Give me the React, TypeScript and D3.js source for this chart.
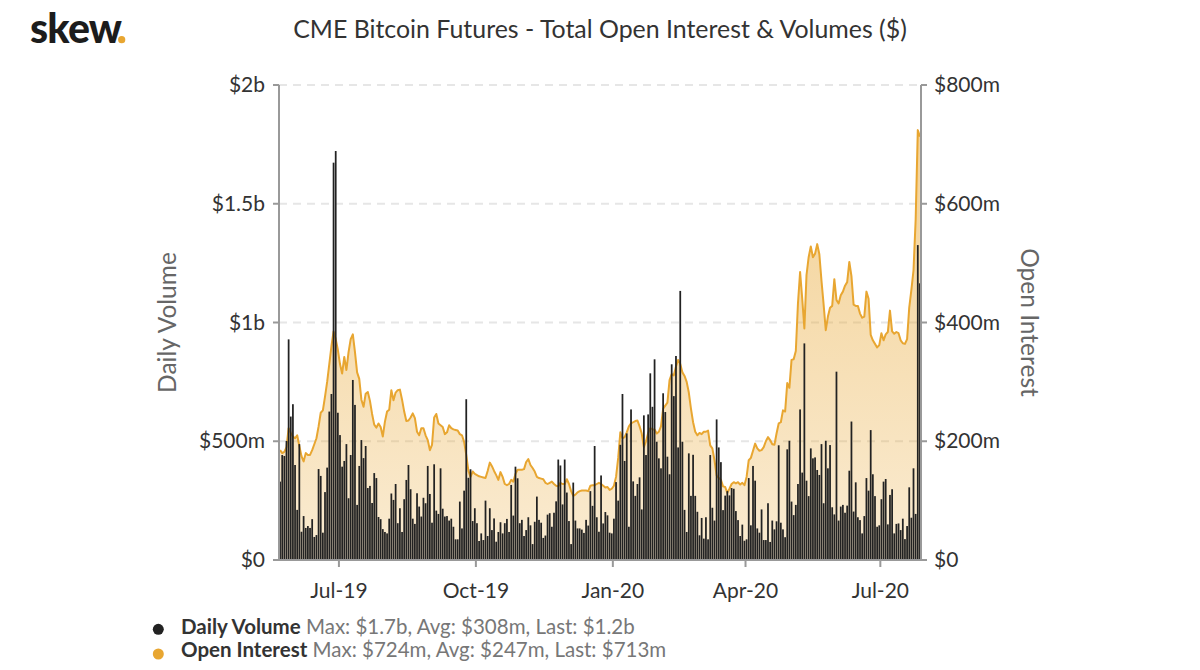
import * as React from 'react';
import * as d3 from 'd3';

// daily volume ($m), one value per CME trading day from 21 May 2019
const volume: number[] = [
  330, 442, 438, 501, 929, 604, 656, 400, 211, 488, 119, 185, 135, 143, 135, 172, 97, 105, 383, 354,
  115, 286, 389, 625, 699, 1673, 1722, 620, 526, 393, 417, 488, 260, 442, 758, 653, 232, 396, 505, 429,
  480, 303, 312, 240, 366, 345, 181, 172, 130, 118,
  112, 174, 280, 253, 320, 155, 218, 118, 256, 337, 400, 298, 174, 152, 281, 225, 183, 262, 239, 396,
  278, 157, 403, 208, 194, 386, 216, 183, 185, 166, 174, 140, 87, 87, 246, 133, 292, 677, 346, 382,
  164, 218, 155, 80, 112, 84, 250, 101, 218, 126,
  175, 77, 118, 159, 112, 155, 173, 118, 316, 187, 393, 344, 155, 169, 101, 126, 180, 146, 67, 161,
  267, 169, 157, 93, 103, 191, 197, 140, 199, 247, 423, 398, 234, 423, 284, 164, 67, 326, 166, 133,
  133, 128, 114, 169, 145, 290, 228, 480, 180, 119,
  356, 154, 202, 188, 115, 112, 174, 328, 250, 485, 699, 417, 533, 140, 634, 331, 270, 320, 348, 213,
  609, 442, 613, 786, 645, 845, 498, 428, 386, 702, 623, 435, 361, 824, 690, 859, 474, 1133, 498, 211,
  118, 449, 270, 443, 270, 203, 104, 177, 90, 180,
  87, 442, 220, 166, 592, 474, 412, 210, 271, 290, 272, 303, 300, 206, 168, 101, 149, 81, 87, 345,
  146, 396, 334, 133, 115, 213, 84, 84, 239, 76, 166, 129, 163, 483, 157, 129, 96, 466, 502, 246,
  189, 232, 320, 634, 368, 912, 334, 269, 470, 428,
  432, 379, 358, 488, 239, 502, 386, 484, 222, 192, 793, 166, 225, 232, 199, 229, 376, 583, 204, 327,
  180, 168, 112, 185, 345, 292, 547, 361, 269, 140, 146, 256, 330, 341, 150, 274, 298, 112, 152, 154,
  126, 174, 88, 143, 306, 178, 386, 194, 1326, 1165,
];

// open interest ($m), same days
const openInterest: number[] = [
  185, 180, 182, 190, 222, 214, 208, 205, 210, 192, 175, 166, 180, 177, 177, 185, 195, 205, 225, 248,
  252, 275, 300, 330, 360, 385, 372, 354, 330, 314, 342, 320, 350, 372, 380, 350, 316, 305, 270, 258,
  280, 283, 268, 246, 228, 223, 230, 224, 208, 233,
  250, 253, 286, 269, 282, 286, 287, 270, 250, 234, 235, 240, 247, 239, 216, 210, 222, 222, 210, 202,
  185, 194, 240, 246, 230, 227, 224, 212, 215, 227, 222, 220, 219, 218, 212, 210, 199, 177, 150, 140,
  149, 145, 143, 141, 140, 139, 138, 150, 164, 158,
  150, 143, 135, 148, 140, 128, 126, 128, 135, 132, 145, 152, 152, 152, 153, 165, 170, 160, 155, 149,
  140, 138, 137, 136, 130, 128, 130, 132, 128, 125, 124, 130, 128, 128, 136, 128, 116, 108, 110, 114,
  116, 117, 117, 117, 116, 125, 126, 126, 128, 130,
  128, 125, 122, 123, 118, 120, 125, 140, 172, 215, 205, 207, 215, 225, 230, 232, 234, 235, 225, 213,
  190, 200, 214, 222, 220, 220, 213, 216, 225, 255, 260, 265, 303, 313, 311, 326, 337, 330, 316, 310,
  300, 282, 255, 232, 216, 210, 214, 212, 216, 216,
  218, 193, 188, 168, 142, 138, 135, 124, 123, 113, 120, 128, 131, 129, 131, 127, 130, 126, 140, 168,
  172, 184, 196, 188, 184, 185, 190, 200, 207, 202, 195, 194, 213, 230, 232, 252, 250, 298, 290, 337,
  338, 352, 432, 485, 440, 390, 480, 510, 528, 510,
  516, 532, 515, 470, 430, 387, 410, 425, 428, 473, 438, 432, 446, 452, 462, 468, 502, 478, 430, 428,
  428, 415, 408, 410, 452, 440, 379, 370, 364, 358, 362, 382, 370, 380, 384, 420, 385, 381, 384, 382,
  370, 365, 364, 372, 425, 455, 488, 573, 724, 713,
];

const startDate = '2019-05-21';
const holidays = [
  '2019-05-27', '2019-07-04', '2019-09-02', '2019-11-28', '2019-12-25', '2020-01-01',
  '2020-01-20', '2020-02-17', '2020-04-10', '2020-05-25', '2020-07-03',
];
const tickMonths = ['2019-07-01', '2019-10-01', '2020-01-01', '2020-04-01', '2020-07-01'];
const volumeTicks = [0, 500, 1000, 1500, 2000];
const oiTicks = [0, 200, 400, 600, 800];

const fmtDay = d3.utcFormat('%Y-%m-%d');
const fmtTick = d3.utcFormat('%b-%y');

function tradingDays(n: number): string[] {
  const out: string[] = [];
  let d = new Date(startDate + 'T00:00:00Z');
  while (out.length < n) {
    const key = fmtDay(d);
    const wd = d.getUTCDay();
    if (wd !== 0 && wd !== 6 && !holidays.includes(key)) out.push(key);
    d = d3.utcDay.offset(d, 1);
  }
  return out;
}

const money = (v: number) => (v === 0 ? '$0' : v >= 1000 ? `$${v / 1000}b` : `$${v}m`);

const FONT = 'Lato, "DejaVu Sans", sans-serif';
const ORANGE = '#e8a631';

export default function App() {
  const width = 1200;
  const height = 670;
  const left = 279;
  const right = 921;
  const top = 85;
  const bottom = 560;

  const dates = tradingDays(volume.length);
  const x = d3.scaleBand<string>().domain(dates).range([left, right]).paddingInner(0.18).paddingOuter(0.09);
  const step = x.step();
  const cx = (d: string) => (x(d) || 0) + x.bandwidth() / 2;
  const yVol = d3.scaleLinear().domain([0, 2000]).range([bottom, top]);
  const yOI = d3.scaleLinear().domain([0, 800]).range([bottom, top]);

  const area = d3.area<number>().x((_, i) => cx(dates[i])).y0(bottom).y1((d) => yOI(d));
  const line = d3.line<number>().x((_, i) => cx(dates[i])).y((d) => yOI(d));

  const ticksX = tickMonths.map((m) => {
    const i = dates.findIndex((d) => d >= m);
    return { label: fmtTick(new Date(m + 'T00:00:00Z')), x: left + step * i };
  });

  return (
    <svg width={width} height={height} style={{ position: 'absolute', left: 0, top: 0 }} fontFamily={FONT}>
      <defs>
        <linearGradient id="oiFill" x1="0" y1={top} x2="0" y2={bottom} gradientUnits="userSpaceOnUse">
          <stop offset="0" stopColor={ORANGE} stopOpacity={0.55} />
          <stop offset="1" stopColor={ORANGE} stopOpacity={0.22} />
        </linearGradient>
      </defs>

      <text x={30} y={43} fontSize={41} fontWeight={900} fill="#1c1c1c" letterSpacing={-0.8}>skew</text>
      <circle cx={121.7} cy={39.7} r={3.6} fill={ORANGE} />

      <text x={600} y={38} fontSize={24.9} textAnchor="middle" fill="#333">
        CME Bitcoin Futures - Total Open Interest &amp; Volumes ($)
      </text>

      {volumeTicks.slice(1).map((t) => (
        <line key={t} x1={left} x2={right} y1={yVol(t)} y2={yVol(t)} stroke="#e6e6e6" strokeWidth={2} strokeDasharray="8,6" />
      ))}

      <path d={area(openInterest) || ''} fill="url(#oiFill)" />
      <path d={line(openInterest) || ''} fill="none" stroke={ORANGE} strokeWidth={2} strokeLinejoin="round" />

      <g fill="#222">
        {volume.map((v, i) => (
          <rect key={i} x={x(dates[i]) || 0} y={yVol(v)} width={x.bandwidth()} height={bottom - yVol(v)} />
        ))}
      </g>

      <g stroke="#999" strokeWidth={2}>
        <line x1={left} x2={left} y1={top} y2={bottom} />
        <line x1={right} x2={right} y1={top} y2={bottom} />
        <line x1={left} x2={right} y1={bottom} y2={bottom} />
        {volumeTicks.map((t) => (
          <line key={'l' + t} x1={left - 6} x2={left} y1={yVol(t)} y2={yVol(t)} />
        ))}
        {oiTicks.map((t) => (
          <line key={'r' + t} x1={right} x2={right + 6} y1={yOI(t)} y2={yOI(t)} />
        ))}
        {ticksX.map((t) => (
          <line key={t.label} x1={t.x} x2={t.x} y1={bottom} y2={bottom + 7} />
        ))}
      </g>

      <g fontSize={21} fill="#333">
        {volumeTicks.map((t) => (
          <text key={t} x={265} y={yVol(t) + 7} textAnchor="end">{money(t)}</text>
        ))}
        {oiTicks.map((t) => (
          <text key={t} x={934} y={yOI(t) + 7}>{money(t)}</text>
        ))}
        {ticksX.map((t) => (
          <text key={t.label} x={t.x} y={598} textAnchor="middle">{t.label}</text>
        ))}
      </g>

      <text transform={`translate(176,${(top + bottom) / 2}) rotate(-90)`} fontSize={24.5} fill="#666" textAnchor="middle">
        Daily Volume
      </text>
      <text transform={`translate(1021,${(top + bottom) / 2}) rotate(90)`} fontSize={24.5} fill="#666" textAnchor="middle">
        Open Interest
      </text>

      <circle cx={158.3} cy={629.3} r={5.5} fill="#222" />
      <text x={181} y={634} fontSize={20.5}>
        <tspan fontWeight={700} fill="#333">Daily Volume</tspan>
        <tspan fill="#777"> Max: $1.7b, Avg: $308m, Last: $1.2b</tspan>
      </text>
      <circle cx={158.3} cy={654} r={5.5} fill={ORANGE} />
      <text x={181} y={657.3} fontSize={20.5}>
        <tspan fontWeight={700} fill="#333">Open Interest</tspan>
        <tspan fill="#777"> Max: $724m, Avg: $247m, Last: $713m</tspan>
      </text>
    </svg>
  );
}
